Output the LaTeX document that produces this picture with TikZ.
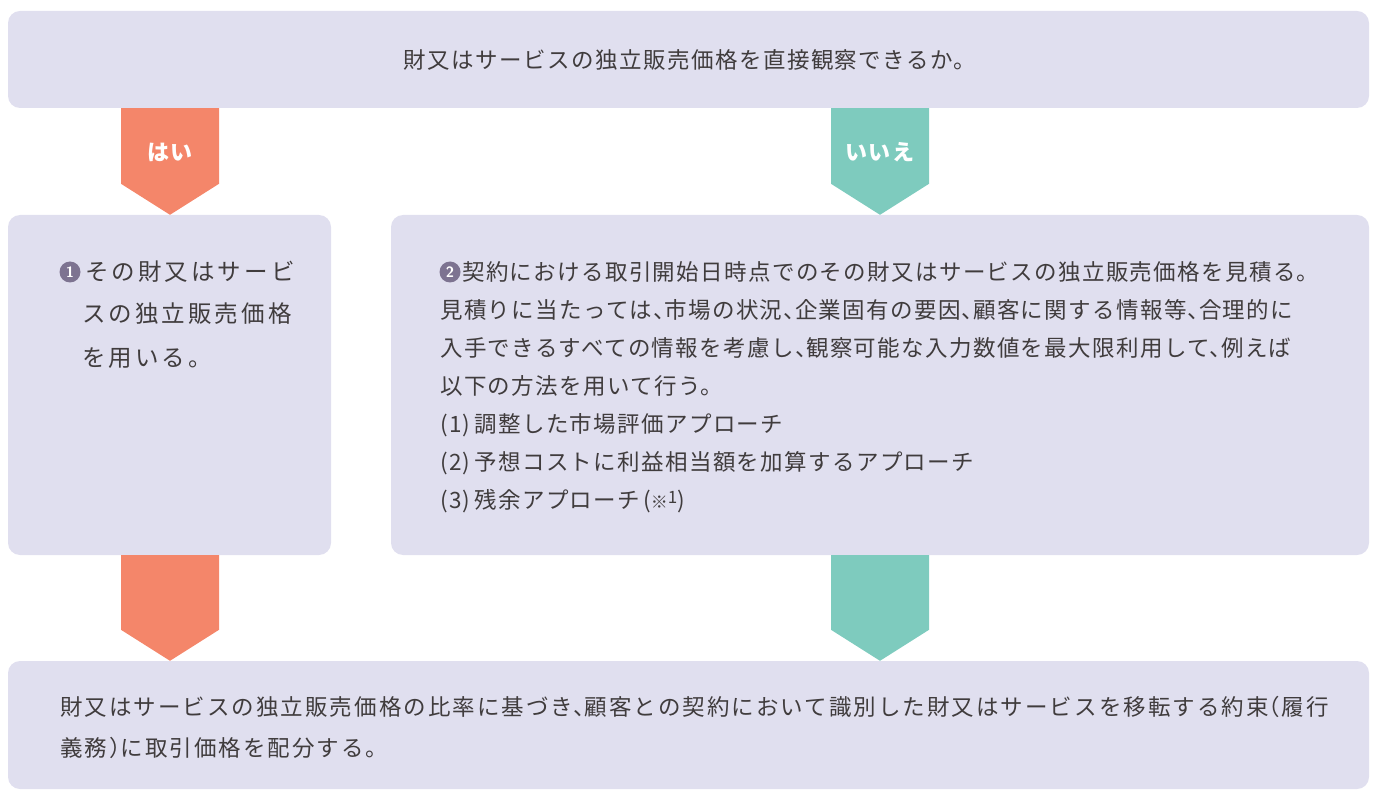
\documentclass[tikz,border=0pt]{standalone}
\usepackage{fontspec}
\newfontfamily\jp{Noto Sans CJK JP}
\usetikzlibrary{calc}
\definecolor{boxc}{HTML}{E0DFEF}
\definecolor{yesc}{HTML}{F4866A}
\definecolor{noc}{HTML}{7ECBBE}
\definecolor{txtc}{HTML}{403C3D}
\definecolor{numc}{HTML}{7D7391}
\newcommand{\tc}{、\kern-0.5em}
\newcommand{\jpf}[2]{\jp\fontsize{#1}{#1}\selectfont\addfontfeature{LetterSpace=#2}}
\newcommand{\flowarrow}[4]{%
  \fill[#4] ($(#1.south -| #3)+(-49,0)$) -- ($(#1.south -| #3)+(49,0)$)
    -- ($(#2.north -| #3)+(49,-31)$) -- (#2.north -| #3)
    -- ($(#2.north -| #3)+(-49,-31)$) -- cycle;}
\begin{document}
\begin{tikzpicture}[x=1pt,y=-1pt,
  box/.style={fill=boxc, rounded corners=12pt, inner sep=0pt},
  txtq/.style={anchor=base, inner sep=0pt, text=txtc, font=\jpf{22.5}{6.5}},
  txt/.style={anchor=base west, inner sep=0pt, text=txtc, font=\jpf{22.5}{6}},
  txtl/.style={anchor=base west, inner sep=0pt, text=txtc, font=\jpf{23.5}{13}},
  txtb/.style={anchor=base west, inner sep=0pt, text=txtc, font=\jpf{22.5}{9}},
  yn/.style={anchor=base, inner sep=0pt, text=white, font=\jpf{22}{5}\bfseries},
  num/.style={circle, fill=numc, minimum size=21pt, inner sep=0pt, text=white,
    font=\sffamily\bfseries\fontsize{15}{15}\selectfont}]
\useasboundingbox (0,0) rectangle (1375,791);
% boxes
\node[box, minimum width=1361pt, minimum height=97pt] (q) at (688.5,59.5) {};
\node[box, minimum width=323pt, minimum height=340pt] (l) at (169.5,385) {};
\node[box, minimum width=978pt, minimum height=340pt] (r) at (880,385) {};
\node[box, minimum width=1361pt, minimum height=128pt] (b) at (688.5,725) {};
% arrow axes
\coordinate (xl) at (170,0);
\coordinate (xr) at (880,0);
\flowarrow{q}{l}{xl}{yesc}
\flowarrow{q}{r}{xr}{noc}
\flowarrow{l}{b}{xl}{yesc}
\flowarrow{r}{b}{xr}{noc}
\node[yn] (yes) at (170,160.5) {はい};
\node[yn] (no) at (880,160.5) {いいえ};
% top text
\node[txtq] (qt) at (690,68.5) {財又はサービスの独立販売価格を直接観察できるか。};
% left text
\node[num] (n1) at (70,272) {1};
\node[txtl] (l1) at (85,281) {その財又はサービ};
\node[txtl] (l2) at (82,323) {スの独立販売価格};
\node[txtl] (l3) at (82,366) {を用いる。};
% right text
\node[num] (n2) at (450,272) {2};
\node[txt] (r1) at (462,280.5) {契約における取引開始日時点でのその財又はサービスの独立販売価格を見積る。};
\node[txt] (r2) at (440,318.5) {見積りに当たっては\tc 市場の状況\tc 企業固有の要因\tc 顧客に関する情報等\tc 合理的に};
\node[txt] (r3) at (440,356.5) {入手できるすべての情報を考慮し\tc 観察可能な入力数値を最大限利用して\tc 例えば};
\node[txt] (r4) at (440,394.5) {以下の方法を用いて行う。};
\node[txt] (r5) at (440,432.5) {(1)\kern4pt 調整した市場評価アプローチ};
\node[txt] (r6) at (440,470.5) {(2)\kern4pt 予想コストに利益相当額を加算するアプローチ};
\node[txt] (r7) at (440,508.5) {(3)\kern4pt 残余アプローチ\kern3pt({\fontsize{17}{17}\selectfont ※\raisebox{5pt}{1}})};
% bottom text
\node[txtb] (b1) at (60,715.5) {財又はサービスの独立販売価格の比率に基づき\tc 顧客との契約において識別した財又はサービスを移転する約束\kern-0.5em（履行};
\node[txtb] (b2) at (60,756.5) {義務）\kern-0.5em に取引価格を配分する。};
\end{tikzpicture}
\end{document}
